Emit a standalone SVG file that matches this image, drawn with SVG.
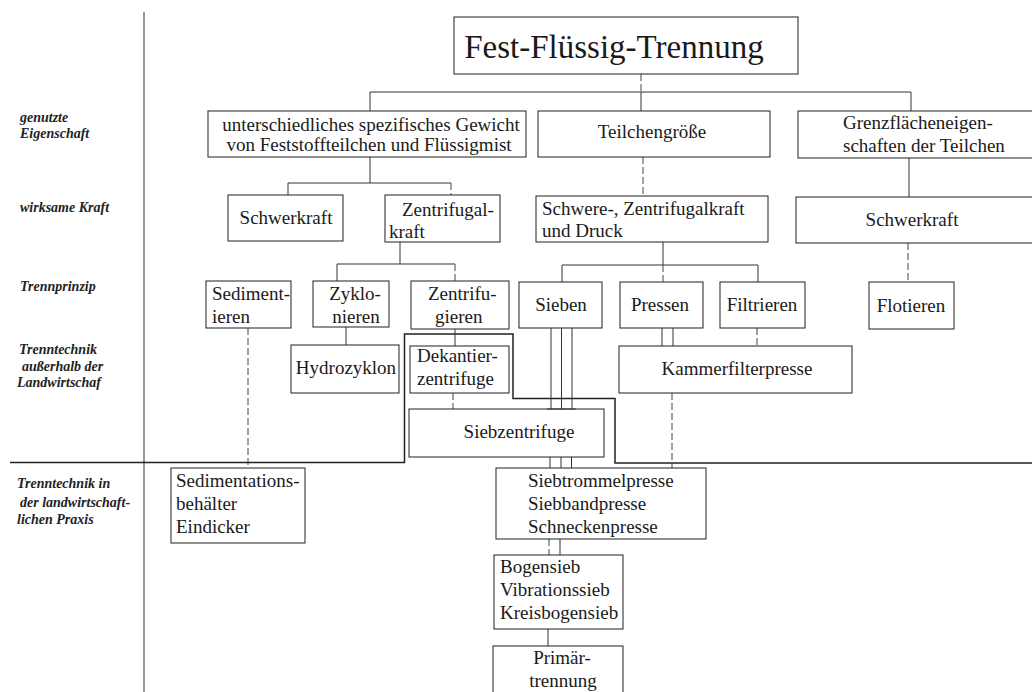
<svg xmlns="http://www.w3.org/2000/svg" width="1032" height="692" viewBox="0 0 1032 692">
<style>
.box{fill:none;stroke:#333;stroke-width:1.1}
.t{font-family:'Liberation Serif',Tinos,'Times New Roman','Noto Serif','DejaVu Serif',serif;font-size:19px;fill:#1a1a1a}
.c{text-anchor:middle}
.title{font-family:'Liberation Serif',Tinos,'Times New Roman','Noto Serif','DejaVu Serif',serif;font-size:33px;fill:#1a1a1a;text-anchor:middle}
.lab{font-family:'Liberation Serif',Tinos,'Times New Roman','Noto Serif','DejaVu Serif',serif;font-size:14px;font-style:italic;font-weight:bold;fill:#222}
.ln{fill:none;stroke:#333;stroke-width:1}
.dl{fill:none;stroke:#444;stroke-width:1;stroke-dasharray:7 3}
.th{fill:none;stroke:#222;stroke-width:1.5}
</style>
<rect width="1032" height="692" fill="#ffffff"/>

<g id="labels">
<text class="lab" x="20" y="122">genutzte</text>
<text class="lab" x="20" y="138">Eigenschaft</text>
<text class="lab" x="20" y="212">wirksame Kraft</text>
<text class="lab" x="20" y="291">Trennprinzip</text>
<text class="lab" x="19" y="354">Trenntechnik</text>
<text class="lab" x="22" y="371">außerhalb der</text>
<text class="lab" x="17" y="387">Landwirtschaf</text>
<text class="lab" x="17" y="488">Trenntechnik in</text>
<text class="lab" x="20" y="507">der landwirtschaft-</text>
<text class="lab" x="17" y="524">lichen Praxis</text>
</g>

<g id="dividers">
<path class="ln" d="M144 12V692"/>
<path class="th" d="M10 462.5H404.5V334H513V398.5H615V463H1032"/>
</g>

<g id="connectors">
<path class="dl" d="M641 74V92"/>
<path class="ln" d="M370 92H911M370 92V111M641 92V111M911 92V111"/>
<path class="ln" d="M370 157V183M288 183H451M288 183V195"/>
<path class="dl" d="M451 183V195"/>
<path class="dl" d="M643 157V196"/>
<path class="ln" d="M909 158V197"/>
<path class="ln" d="M400 242V264M337 264H455M337 264V281"/>
<path class="dl" d="M455 264V281"/>
<path class="ln" d="M663 242V265M562 265H758M562 265V282M758 265V282"/>
<path class="dl" d="M663 265V282"/>
<path class="dl" d="M908 243V282"/>
<path class="ln" d="M346 327V345"/>
<path class="ln" d="M455 329V346"/>
<path class="dl" d="M453 393V409"/>
<path class="ln" d="M551 328V409M561.5 328V409M572 328V409M547 409H576"/>
<path class="ln" d="M550 457V468M561 457V468M571.5 457V468"/>
<path class="ln" d="M662 328V346M673 328V346"/>
<path class="dl" d="M757 328V346"/>
<path class="dl" d="M672 393V468"/>
<path class="dl" d="M248 328V468"/>
<path class="dl" d="M549 539V555"/>
<path class="ln" d="M560 539V555"/>
<path class="ln" d="M548 629V646"/>
</g>

<g id="n-title"><rect class="box" x="454" y="17" width="344" height="57"/><text class="title" x="614" y="58">Fest-Flüssig-Trennung</text></g>
<g id="n-gewicht"><rect class="box" x="208" y="111" width="318" height="46"/><text class="t c" x="371" y="131">unterschiedliches spezifisches Gewicht</text><text class="t c" x="369" y="151">von Feststoffteilchen und Flüssigmist</text></g>
<g id="n-teilchengroesse"><rect class="box" x="538" y="111" width="232" height="46"/><text class="t c" x="652" y="138">Teilchengröße</text></g>
<g id="n-grenzflaeche"><rect class="box" x="798" y="111" width="250" height="47"/><text class="t" x="843" y="129">Grenzflächeneigen-</text><text class="t" x="843" y="152">schaften der Teilchen</text></g>

<g id="n-schwerkraft1"><rect class="box" x="228" y="195" width="115" height="46"/><text class="t c" x="286" y="224">Schwerkraft</text></g>
<g id="n-zentrifugalkraft"><rect class="box" x="385" y="195" width="115" height="47"/><text class="t" x="402" y="216">Zentrifugal-</text><text class="t" x="389" y="238">kraft</text></g>
<g id="n-schwere-druck"><rect class="box" x="536" y="196" width="232" height="46"/><text class="t" x="542" y="215">Schwere-, Zentrifugalkraft</text><text class="t" x="542" y="237">und Druck</text></g>
<g id="n-schwerkraft2"><rect class="box" x="796" y="197" width="250" height="46"/><text class="t c" x="912" y="226">Schwerkraft</text></g>

<g id="n-sedimentieren"><rect class="box" x="206" y="281" width="85" height="47"/><text class="t" x="212" y="300">Sediment-</text><text class="t" x="212" y="323">ieren</text></g>
<g id="n-zyklonieren"><rect class="box" x="313" y="281" width="76" height="46"/><text class="t c" x="355" y="300">Zyklo-</text><text class="t c" x="356" y="323">nieren</text></g>
<g id="n-zentrifugieren"><rect class="box" x="411" y="281" width="98" height="48"/><text class="t" x="428" y="300">Zentrifu-</text><text class="t" x="435" y="323">gieren</text></g>
<g id="n-sieben"><rect class="box" x="519" y="282" width="83" height="46"/><text class="t c" x="561" y="311">Sieben</text></g>
<g id="n-pressen"><rect class="box" x="620" y="282" width="83" height="46"/><text class="t c" x="660" y="311">Pressen</text></g>
<g id="n-filtrieren"><rect class="box" x="720" y="282" width="85" height="46"/><text class="t c" x="762" y="311">Filtrieren</text></g>
<g id="n-flotieren"><rect class="box" x="869" y="282" width="85" height="47"/><text class="t c" x="911" y="312">Flotieren</text></g>

<g id="n-hydrozyklon"><rect class="box" x="291" y="345" width="108" height="48"/><text class="t c" x="346" y="374">Hydrozyklon</text></g>
<g id="n-dekantierzentrifuge"><rect class="box" x="410" y="346" width="99" height="47"/><text class="t" x="417" y="362">Dekantier-</text><text class="t" x="417" y="385">zentrifuge</text></g>
<g id="n-kammerfilterpresse"><rect class="box" x="619" y="346" width="233" height="47"/><text class="t c" x="737" y="375">Kammerfilterpresse</text></g>
<g id="n-siebzentrifuge"><rect class="box" x="409" y="409" width="195" height="48"/><text class="t c" x="519" y="438">Siebzentrifuge</text></g>

<g id="n-sedimentationsbehaelter"><rect class="box" x="171" y="468" width="134" height="75"/><text class="t" x="176" y="487">Sedimentations-</text><text class="t" x="176" y="510">behälter</text><text class="t" x="176" y="533">Eindicker</text></g>
<g id="n-pressen-praxis"><rect class="box" x="496" y="468" width="210" height="71"/><text class="t" x="528" y="487">Siebtrommelpresse</text><text class="t" x="528" y="510">Siebbandpresse</text><text class="t" x="528" y="533">Schneckenpresse</text></g>
<g id="n-siebe-praxis"><rect class="box" x="494" y="555" width="129" height="74"/><text class="t" x="500" y="573">Bogensieb</text><text class="t" x="500" y="596">Vibrationssieb</text><text class="t" x="500" y="619">Kreisbogensieb</text></g>
<g id="n-primaertrennung"><rect class="box" x="493" y="646" width="130" height="60"/><text class="t c" x="562" y="664">Primär-</text><text class="t c" x="563" y="687">trennung</text></g>
</svg>
